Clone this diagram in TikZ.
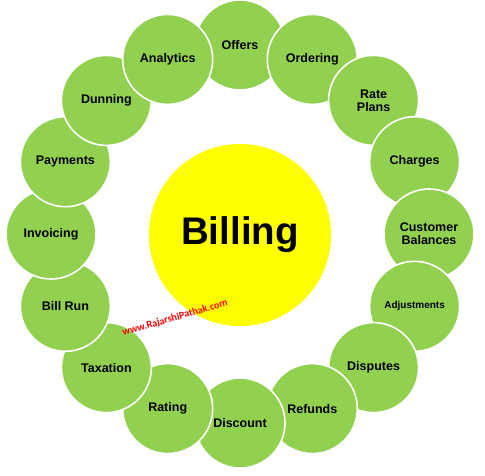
\documentclass[tikz,border=0pt]{standalone}
\usepackage{fontspec}
\setmainfont{Liberation Sans}
\newfontfamily\wmfont{Carlito}
\definecolor{leaf}{HTML}{92D050}
\definecolor{sun}{HTML}{FFFF00}
\definecolor{mark}{HTML}{FF0000}
\begin{document}
\begin{tikzpicture}[x=1pt,y=-1pt,
  petal/.style={circle,fill=leaf,draw=white,line width=1.6pt,minimum size=90pt,inner sep=0pt,align=center,
    font=\bfseries\fontsize{12.5}{13}\selectfont},
  small/.style={font=\bfseries\fontsize{10}{12}\selectfont},
  hub/.style={circle,fill=sun,minimum size=182pt,inner sep=0pt,font=\bfseries\fontsize{38.5}{40}\selectfont},
  wm/.style={text=mark,font=\wmfont\bfseries\fontsize{10.2}{12}\selectfont,rotate=16,inner sep=0pt}]
\useasboundingbox (0,0) rectangle (485,476);
\node[hub] (billing) at (240,235) {Billing};
\node[petal] (offers) at (240,45) {Offers};
\node[petal] (ordering) at (312.3,59.4) {Ordering};
\node[petal] (rateplans) at (373.6,100.4) {Rate\\Plans};
\node[petal] (charges) at (414.6,161.7) {Charges};
\node[petal] (balances) at (429,234) {Customer\\Balances};
\node[petal,small] (adjustments) at (414.6,306.3) {Adjustments};
\node[petal] (disputes) at (373.6,367.6) {Disputes};
\node[petal] (refunds) at (312.3,408.6) {Refunds};
\node[petal] (discount) at (240,423) {Discount};
\node[petal] (rating) at (167.7,408.6) {Rating};
\node[petal] (taxation) at (106.4,367.6) {Taxation};
\node[petal] (billrun) at (65.4,306.3) {Bill Run};
\node[petal] (invoicing) at (51,234) {Invoicing};
\node[petal] (payments) at (65.4,161.7) {Payments};
\node[petal] (dunning) at (106.4,100.4) {Dunning};
\node[petal] (analytics) at (167.7,59.4) {Analytics};
\node[wm] (site) at (175,318) {www.RajarshiPathak.com};
\end{tikzpicture}
\end{document}
